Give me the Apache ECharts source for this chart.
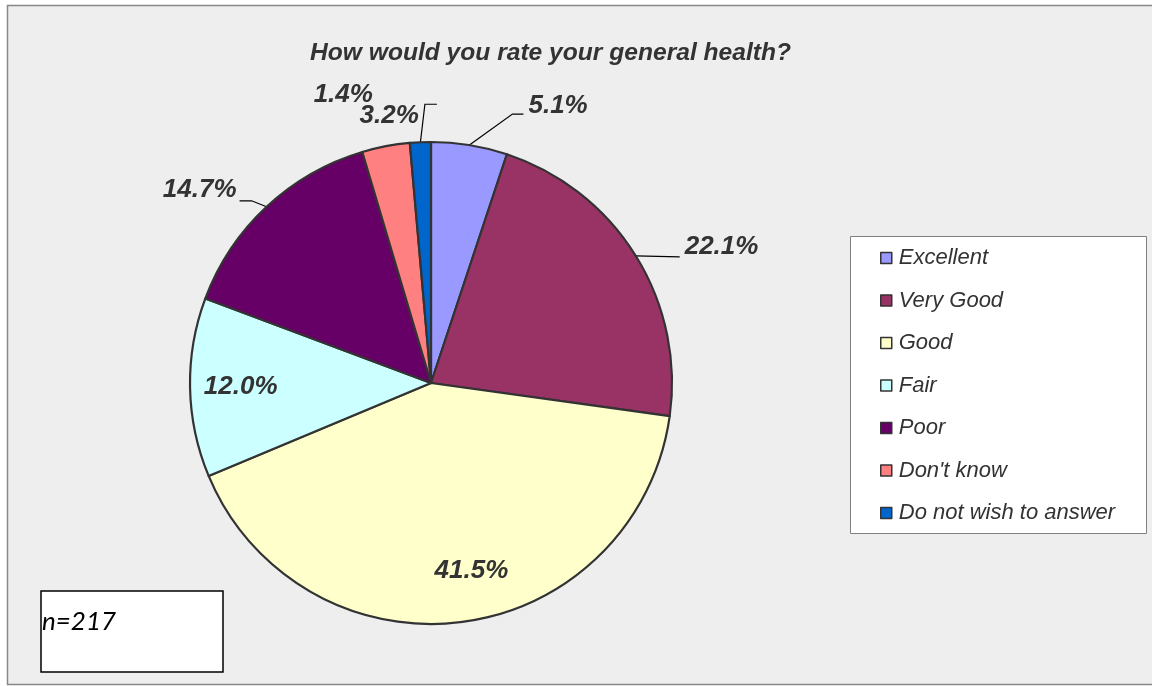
<!DOCTYPE html>
<html>
<head>
<meta charset="utf-8">
<script src="https://cdn.jsdelivr.net/npm/echarts@6/dist/echarts.min.js"></script>
<style>
html,body{margin:0;padding:0;background:#ffffff;}
#chart{width:1152px;height:686px;}
</style>
</head>
<body>
<div id="chart"></div>
<script>
// ---- data ----
const chartTitle = 'How would you rate your general health?';
const categories = ['Excellent', 'Very Good', 'Good', 'Fair', 'Poor', "Don't know", 'Do not wish to answer'];
const values = [5.1, 22.1, 41.5, 12.0, 14.7, 3.2, 1.4];
const sampleNote = 'n=217';

// ---- style ----
const colors = ['#9999FF', '#993366', '#FFFFCC', '#CCFFFF', '#660066', '#FF8080', '#0066CC'];
const CX = 431, CY = 383, R = 241;

// label placement (offsets relative to the point on the slice's arc)
const placement = [
  {kind: 'out', line: [[43, -31], [54, -31]], text: [59, -39], align: 'left'},
  {kind: 'out', line: [[44, 1]], text: [49, -9], align: 'left'},
  {kind: 'in', r: 0.79, text: [16, -1]},
  {kind: 'in', r: 0.79, text: [0, 0]},
  {kind: 'out', line: [[-15, -6], [-27, -6]], text: [-30, -17], align: 'right'},
  {kind: 'out', line: null, text: [33, -30], align: 'right'},
  {kind: 'out', line: [[4.5, -38], [16.5, -38]], text: [-47.5, -47], align: 'right'}
];

const total = values.reduce((a, b) => a + b, 0);
const mids = [];
let acc = 0;
values.forEach(v => { mids.push((acc + v / 2) / total * 2 * Math.PI); acc += v; });
function polar(i, r) {
  return [CX + r * Math.sin(mids[i]), CY - r * Math.cos(mids[i])];
}

const chart = echarts.init(document.getElementById('chart'), null, {renderer: 'canvas'});

const option = {
  animation: false,
  backgroundColor: '#ffffff',
  title: {
    text: chartTitle,
    left: 305,
    top: 36,
    textStyle: {
      fontFamily: '"Liberation Sans", Arial, sans-serif',
      fontSize: 24.6,
      fontWeight: 'bold',
      fontStyle: 'italic',
      color: '#333333'
    }
  },
  legend: {
    orient: 'vertical',
    left: 880,
    top: 247,
    padding: 0,
    itemGap: 20.5,
    itemWidth: 11,
    itemHeight: 11,
    icon: 'rect',
    data: categories,
    itemStyle: {borderColor: '#333333', borderWidth: 1.5},
    textStyle: {
      fontFamily: '"Liberation Sans", Arial, sans-serif',
      fontSize: 22,
      fontStyle: 'italic',
      color: '#333333',
      lineHeight: 22,
      padding: [0, 0, 0, 2]
    }
  },
  graphic: [
    {type: 'rect', z: -10, shape: {x: 7.5, y: 5.5, width: 1160, height: 679}, style: {fill: '#EEEEEE', stroke: '#888888', lineWidth: 1.5}},
    {type: 'rect', z: -5, shape: {x: 850.5, y: 236.5, width: 296, height: 297}, style: {fill: '#ffffff', stroke: '#808080', lineWidth: 1}},
    {type: 'rect', z: -5, shape: {x: 41, y: 591, width: 182, height: 81}, style: {fill: '#ffffff', stroke: '#000000', lineWidth: 1.5}},
    {type: 'text', z: 10, x: 42, y: 622, style: {text: sampleNote, fill: '#000000', font: 'italic 26px Lato, "Open Sans", sans-serif', textVerticalAlign: 'middle'}}
  ],
  series: [{
    type: 'pie',
    center: [CX, CY],
    radius: R,
    startAngle: 90,
    clockwise: true,
    avoidLabelOverlap: false,
    itemStyle: {borderColor: '#333333', borderWidth: 2.2},
    label: {
      show: true,
      formatter: p => p.value.toFixed(1) + '%',
      fontFamily: '"Liberation Sans", Arial, sans-serif',
      fontSize: 26,
      fontWeight: 'bold',
      fontStyle: 'italic',
      color: '#333333'
    },
    labelLine: {show: true, lineStyle: {color: '#000000', width: 1.2}},
    labelLayout: function (params) {
      const i = params.dataIndex;
      const p = placement[i];
      if (p.kind === 'in') {
        const c = polar(i, R * p.r);
        return {x: c[0] + p.text[0], y: c[1] + p.text[1], align: 'center', verticalAlign: 'middle'};
      }
      const a = polar(i, R);
      const res = {x: a[0] + p.text[0], y: a[1] + p.text[1], align: p.align, verticalAlign: 'middle'};
      if (p.line) {
        const pts = [[a[0], a[1]]];
        p.line.forEach(o => pts.push([a[0] + o[0], a[1] + o[1]]));
        if (pts.length === 2) pts.push(pts[1].slice());
        res.labelLinePoints = pts;
      }
      return res;
    },
    data: categories.map((name, i) => {
      const p = placement[i];
      const item = {name: name, value: values[i], itemStyle: {color: colors[i]}};
      if (p.kind === 'in') {
        item.label = {position: 'inside'};
        item.labelLine = {show: false};
      } else if (!p.line) {
        item.labelLine = {show: false};
      }
      return item;
    })
  }]
};
chart.setOption(option);
</script>
</body>
</html>
